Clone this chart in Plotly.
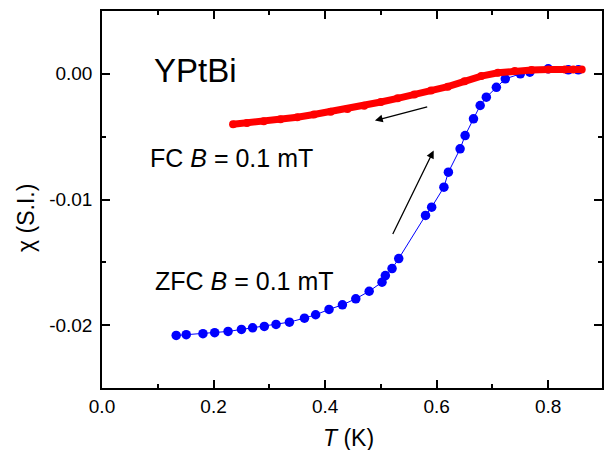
import plotly.graph_objects as go

# ZFC (blue) data
zfc_T = [0.133, 0.151, 0.181, 0.202, 0.226, 0.250, 0.270, 0.291, 0.312, 0.336, 0.363, 0.383,
         0.407, 0.431, 0.455, 0.479, 0.502, 0.508, 0.520, 0.532, 0.580, 0.591, 0.613, 0.621,
         0.642, 0.651, 0.666, 0.678, 0.689, 0.707, 0.723, 0.750, 0.767, 0.800, 0.836, 0.854]
zfc_chi = [-0.02082, -0.02076, -0.02068, -0.02060, -0.02050, -0.02034, -0.02021, -0.02010,
           -0.01994, -0.01976, -0.01944, -0.01917, -0.01875, -0.01838, -0.01790, -0.01730,
           -0.01658, -0.01605, -0.01550, -0.01470, -0.01127, -0.01061, -0.00902, -0.00783,
           -0.00597, -0.00491, -0.00358, -0.00252, -0.00186, -0.00107, -0.00040, 0.00000,
           0.00013, 0.00040, 0.00032, 0.00032]

# FC (red) data
fc_T = [0.235, 0.26, 0.29, 0.32, 0.35, 0.38, 0.41, 0.44, 0.47, 0.50, 0.53, 0.56, 0.59,
        0.62, 0.65, 0.68, 0.71, 0.74, 0.77, 0.80, 0.83, 0.845, 0.86]
fc_chi = [-0.00402, -0.00392, -0.00378, -0.00362, -0.00345, -0.00324, -0.00302, -0.00279,
          -0.00253, -0.00224, -0.00195, -0.00165, -0.00133, -0.00102, -0.00060, -0.00018,
          0.00008, 0.00022, 0.00030, 0.00034, 0.00035, 0.00035, 0.00034]

x_ticks = [0.0, 0.2, 0.4, 0.6, 0.8]
x_labels = ["0.0", "0.2", "0.4", "0.6", "0.8"]
y_ticks = [0.0, -0.01, -0.02]
y_labels = ["0.00", "-0.01", "-0.02"]

FONT = "Liberation Sans, Arial, sans-serif"

fig = go.Figure()
fig.add_trace(go.Scatter(x=zfc_T, y=zfc_chi, mode="lines+markers",
                         line=dict(color="#0000FF", width=1),
                         marker=dict(color="#0000FF", size=9.5, line=dict(width=0)),
                         showlegend=False))
fig.add_trace(go.Scatter(x=fc_T, y=fc_chi, mode="lines+markers",
                         line=dict(color="#FF0000", width=7),
                         marker=dict(color="#FF0000", size=8, line=dict(width=0)),
                         showlegend=False))

axis_common = dict(showline=True, linecolor="black", linewidth=1.5, mirror="ticks",
                   ticks="inside", ticklen=8, tickwidth=1.5, tickcolor="black",
                   showgrid=False, zeroline=False,
                   tickfont=dict(family=FONT, size=19, color="black"))

fig.update_xaxes(range=[0, 0.8964], tickmode="array", tickvals=x_ticks, ticktext=x_labels,
                 minor=dict(tickmode="array", tickvals=[0.1, 0.3, 0.5, 0.7], ticks="inside",
                            ticklen=4, tickwidth=1.5, tickcolor="black"),
                 **axis_common)
fig.update_yaxes(range=[-0.025, 0.005], tickmode="array", tickvals=y_ticks, ticktext=y_labels,
                 minor=dict(tickmode="array", tickvals=[-0.025, -0.015, -0.005, 0.005],
                            ticks="inside", ticklen=4, tickwidth=1.5, tickcolor="black"),
                 ticklabelstandoff=4,
                 **axis_common)

annotations = [
    dict(x=0.0888, y=0.00026, xref="x", yref="y", text="YPtBi", showarrow=False,
         xanchor="left", yanchor="middle", font=dict(family=FONT, size=33, color="black")),
    dict(x=0.0827, y=-0.00668, xref="x", yref="y", text="FC <i>B</i> = 0.1 mT", showarrow=False,
         xanchor="left", yanchor="middle", font=dict(family=FONT, size=25, color="black")),
    dict(x=0.0916, y=-0.01651, xref="x", yref="y", text="ZFC <i>B</i> = 0.1 mT", showarrow=False,
         xanchor="left", yanchor="middle", font=dict(family=FONT, size=25, color="black")),
    dict(x=0.4934, y=-0.133, xref="paper", yref="paper", text="<i>T</i> (K)", showarrow=False,
         xanchor="center", yanchor="middle", font=dict(family=FONT, size=23, color="black")),
    dict(x=-0.1524, y=0.4505, xref="paper", yref="paper", text="χ (S.I.)", showarrow=False,
         textangle=-90, xanchor="center", yanchor="middle",
         font=dict(family=FONT, size=23, color="black")),
    # arrows
    dict(x=0.4893, y=-0.003715, ax=0.5857, ay=-0.0026, xref="x", yref="y", axref="x", ayref="y",
         text="", showarrow=True, arrowhead=2, arrowsize=1.2, arrowwidth=1.3, arrowcolor="black"),
    dict(x=0.5946, y=-0.0061, ax=0.520, ay=-0.01286, xref="x", yref="y", axref="x", ayref="y",
         text="", showarrow=True, arrowhead=2, arrowsize=1.2, arrowwidth=1.3, arrowcolor="black"),
]

fig.update_layout(width=604, height=450, margin=dict(l=102, r=0, t=11, b=62),
                  paper_bgcolor="white", plot_bgcolor="white", annotations=annotations,
                  font=dict(family=FONT, color="black"))

fig.write_html("out.html", config={"displayModeBar": False},
               post_script="document.body.style.margin='0';document.body.style.overflow='hidden';")
